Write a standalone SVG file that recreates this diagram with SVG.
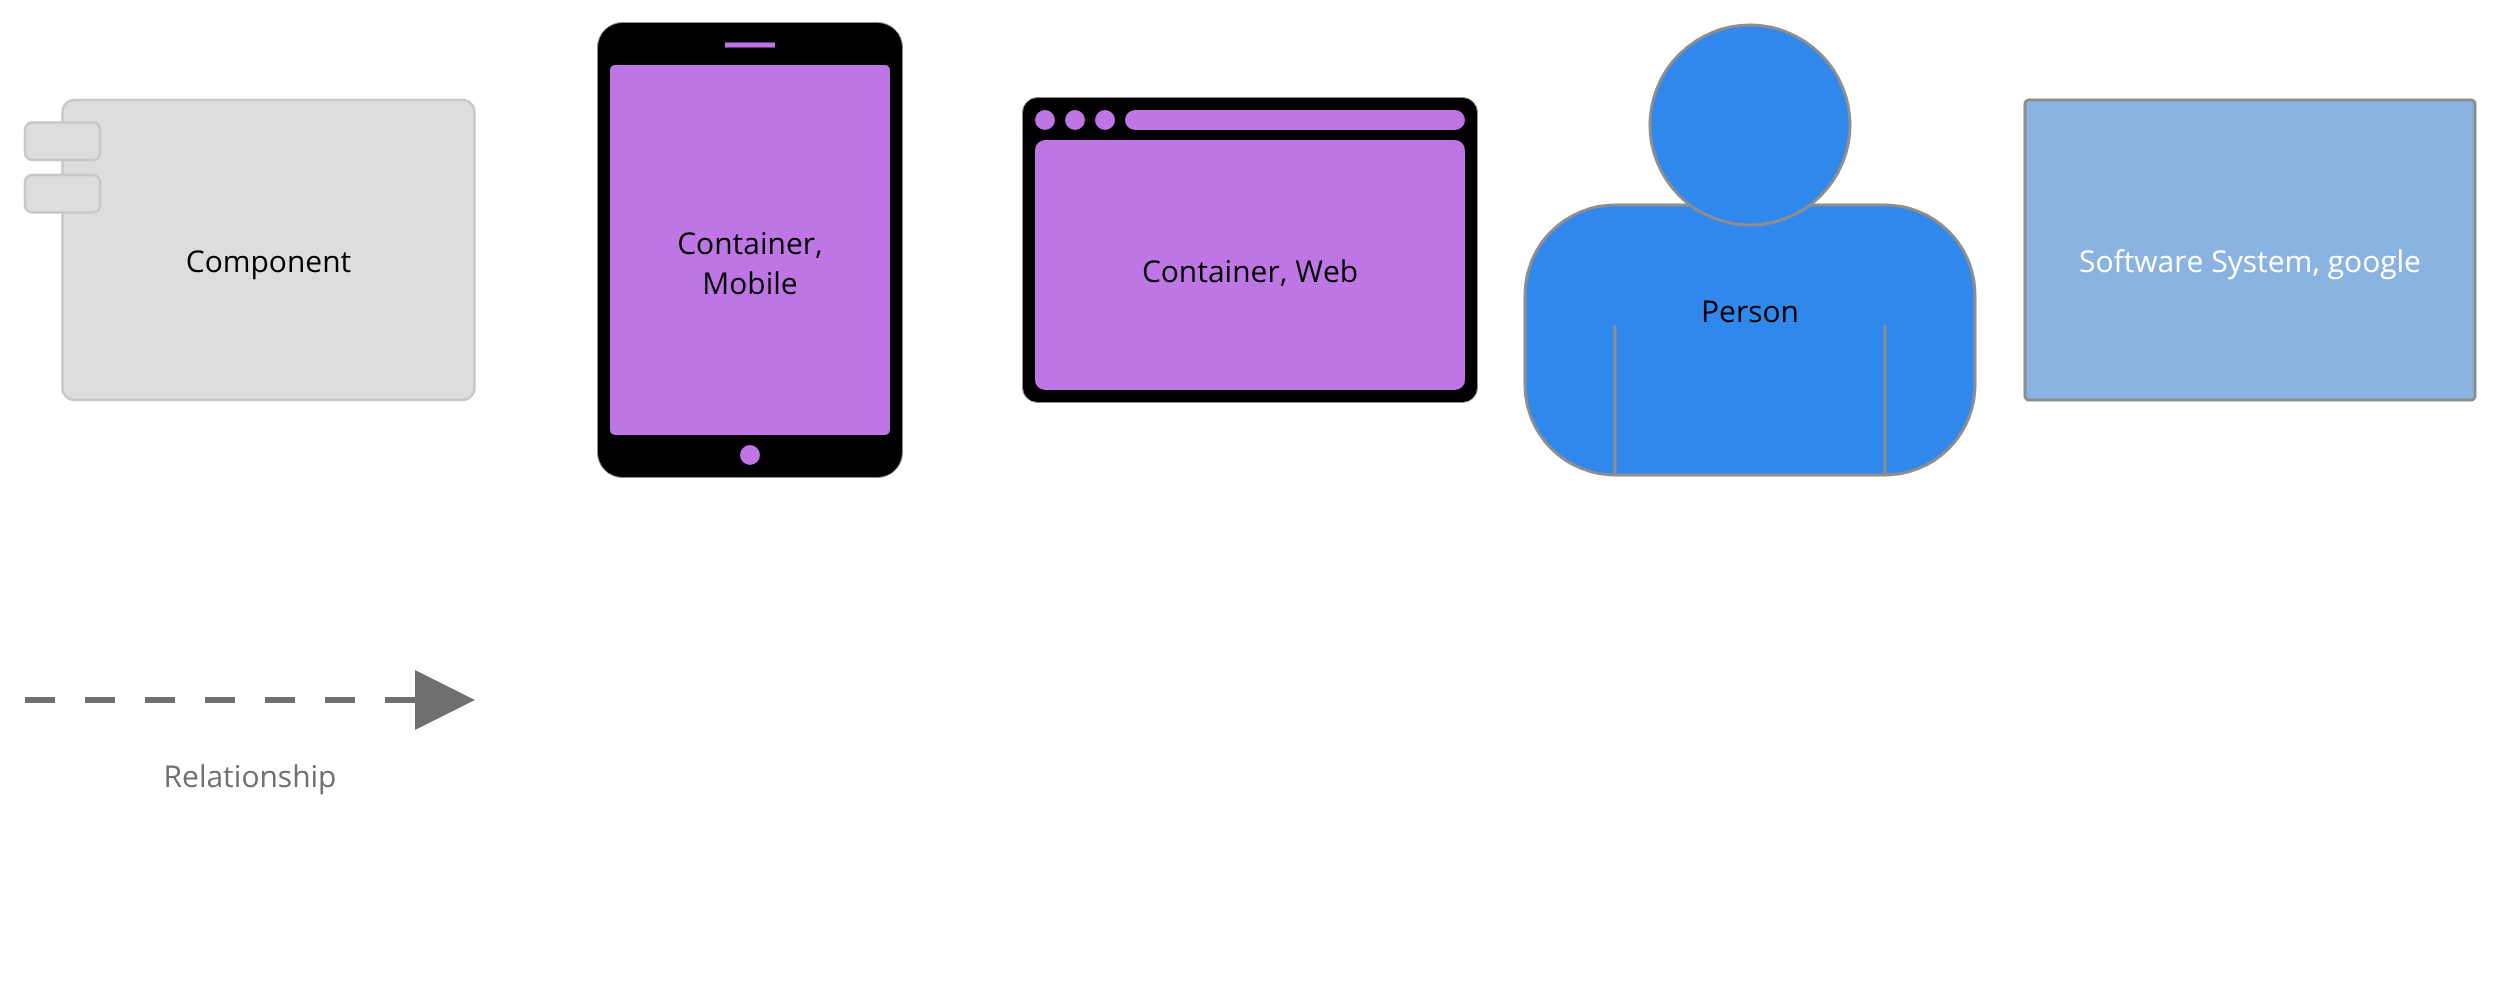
<svg xmlns="http://www.w3.org/2000/svg" width="2500" height="1000" viewBox="0 0 2500 1000">
<defs>
<style>
text{font-family:"Open Sans","Noto Sans",sans-serif;font-size:30px;text-anchor:middle;fill:#000;text-rendering:geometricPrecision;filter:url(#gray)}
.comp{fill:#dddddd;stroke:#c8c8c8;stroke-width:2.500}
.frame{fill:#000;stroke:#8f8f8f;stroke-width:1}
.purple{fill:#bd76e4}
.person{fill:#3088ec;stroke:#8e8e8e;stroke-width:3}
</style>
<filter id="gray" x="-5%" y="-20%" width="110%" height="140%" color-interpolation-filters="sRGB"><feOffset dx="0" dy="0"/></filter>
<marker id="head" markerUnits="userSpaceOnUse" markerWidth="60" markerHeight="60" refX="0" refY="30" orient="auto"><polygon points="0,0 60,30 0,60" fill="#707070"/></marker>
</defs>
<rect width="2500" height="1000" fill="#fff"/>
<g id="component">
<rect class="comp" x="62.500" y="100" width="412" height="300" rx="12"/>
<rect class="comp" x="25" y="122.500" width="75" height="37.500" rx="7"/>
<rect class="comp" x="25" y="175" width="75" height="37.500" rx="7"/>
<text x="268.500" y="272">Component</text>
</g>
<g id="container-mobile">
<rect class="frame" x="597.500" y="22.500" width="305" height="455" rx="25"/>
<rect class="purple" x="725" y="42.500" width="50" height="5"/>
<rect class="purple" x="610" y="65" width="280" height="370" rx="5"/>
<circle class="purple" cx="750" cy="455" r="10"/>
<text x="750" y="254">Container,</text>
<text x="750" y="294">Mobile</text>
</g>
<g id="container-web">
<rect class="frame" x="1022.500" y="97.500" width="455" height="305" rx="15"/>
<circle class="purple" cx="1045" cy="120" r="10"/>
<circle class="purple" cx="1075" cy="120" r="10"/>
<circle class="purple" cx="1105" cy="120" r="10"/>
<rect class="purple" x="1125" y="110" width="340" height="20" rx="10"/>
<rect class="purple" x="1035" y="140" width="430" height="250" rx="10"/>
<text x="1250" y="282">Container, Web</text>
</g>
<g id="person">
<rect class="person" x="1525" y="205" width="450" height="270" rx="90"/>
<path d="M1615 325V475M1885 325V475" fill="none" stroke="#8e8e8e" stroke-width="3"/>
<circle class="person" cx="1750" cy="125" r="100"/>
<text x="1750" y="322">Person</text>
</g>
<g id="software-system">
<rect x="2025" y="100" width="450" height="300" rx="4" fill="#8ab3e2" stroke="#8e8e8e" stroke-width="3"/>
<text x="2250" y="272" style="fill:#fff">Software System, google</text>
</g>
<g id="connectors">
<path d="M25 700H415" fill="none" stroke="#707070" stroke-width="6" stroke-dasharray="30 30" marker-end="url(#head)"/>
<text x="250" y="787" style="fill:#707070">Relationship</text>
</g>
</svg>
